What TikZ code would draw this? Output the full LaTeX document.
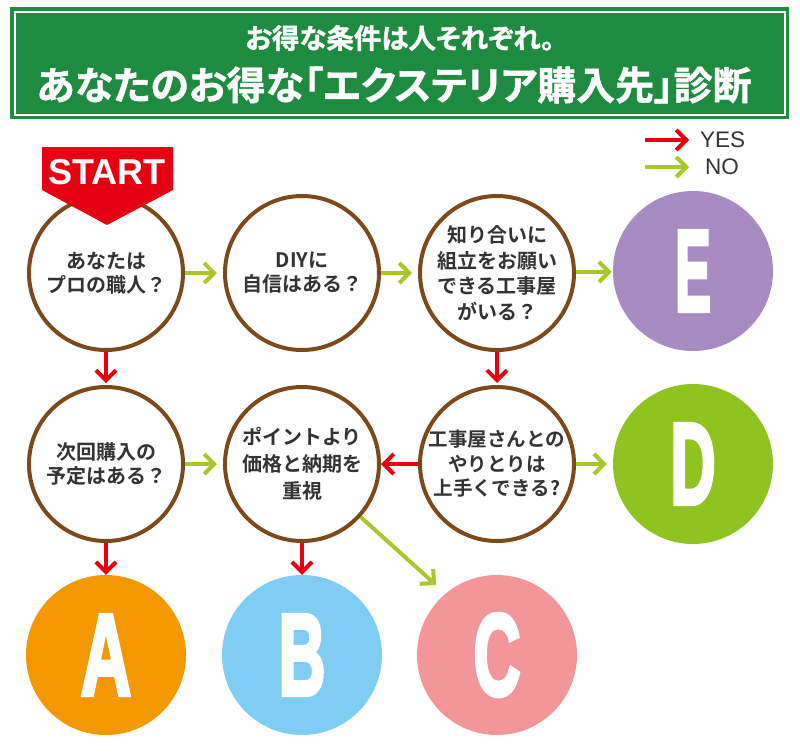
\documentclass[tikz,border=0pt]{standalone}
\usepackage{fontspec}
\usepackage{graphicx}
\setmainfont{Liberation Sans}
\newfontfamily\cjk{Noto Sans CJK JP}[BoldFont={Noto Sans CJK JP Bold}]
\newfontfamily\cjkhead{Noto Sans CJK JP Bold}[RawFeature=+palt, FakeBold=1.2]
\newfontfamily\letterfont{Liberation Sans Bold}[FakeBold=4]
\usetikzlibrary{arrows.meta}
\definecolor{hdrgreen}{HTML}{1F8B41}
\definecolor{brownc}{HTML}{7B4A1A}
\definecolor{yesred}{HTML}{E60012}
\definecolor{nogreen}{HTML}{A9C62C}
\definecolor{txtgray}{HTML}{333333}
\definecolor{cE}{HTML}{A88BC0}
\definecolor{cD}{HTML}{8FC31F}
\definecolor{cA}{HTML}{F39800}
\definecolor{cB}{HTML}{80CDF3}
\definecolor{cC}{HTML}{F29699}
\tikzset{
  qbox/.style={circle, draw=brownc, line width=4pt, fill=white, minimum size=154pt,
    inner sep=0pt, align=center, text=txtgray,
    font=\cjk\bfseries\fontsize{20}{27.5}\selectfont},
  resbox/.style={circle, minimum size=160pt, inner sep=0pt, text=white,
    font=\letterfont\fontsize{116}{116}\selectfont},
  yesarr/.style={draw=yesred, line width=4pt, -{Straight Barb[length=10pt,width=20pt]}},
  noarr/.style={draw=nogreen, line width=4pt, -{Straight Barb[length=10pt,width=20pt]}},
}
\begin{document}
\begin{tikzpicture}[x=1pt, y=-1pt]
\useasboundingbox (0,0) rectangle (800,755);
% header
\fill[hdrgreen] (10,7) rectangle (789,119);
\draw[white, line width=1.2pt] (15,12) rectangle (785,115);
\node[font=\cjkhead\fontsize{27.5}{27.5}\selectfont, text=white] (h1) at (400,38) {お得な条件は人それぞれ。};
\node[font=\cjkhead\fontsize{39}{39}\selectfont, text=white] (h2) at (394,85) {あなたのお得な「エクステリア購入先」診断};
% legend
\coordinate (ly1) at (645,140);
\coordinate (ly2) at (689,140);
\coordinate (ln1) at (645,167);
\coordinate (ln2) at (689,167);
\draw[yesarr] (ly1) -- (ly2);
\draw[noarr] (ln1) -- (ln2);
\node[anchor=west, text=txtgray, font=\fontsize{22.5}{22.5}\selectfont, inner sep=0pt] (lyes) at (700,140) {YES};
\node[anchor=west, text=txtgray, font=\fontsize{22.5}{22.5}\selectfont, inner sep=0pt] (lno) at (705,167) {NO};
% question circles
\node[qbox] (q1) at (106,273) {\raisebox{-3pt}{\shortstack{あなたは\\[3pt]プロの職人？}}};
\node[qbox] (q2) at (302,273) {\raisebox{-3pt}{\shortstack{DIYに\\[3pt]自信はある？}}};
\node[qbox, font=\cjk\bfseries\fontsize{20}{25.5}\selectfont] (q3) at (497,273) {知り合いに\\組立をお願い\\できる工事屋\\がいる？};
\node[qbox] (q4) at (106,464) {\raisebox{-3pt}{\shortstack{次回購入の\\[3pt]予定はある？}}};
\node[qbox, font=\cjk\bfseries\fontsize{20}{27}\selectfont] (q5) at (302,464) {ポイントより\\価格と納期を\\重視};
\node[qbox, font=\cjk\bfseries\fontsize{19.5}{24.5}\selectfont] (q6) at (497,464) {工事屋さんとの\\やりとりは\\上手くできる?};
% result circles
\node[resbox, fill=cE] (rE) at (693,271) {\scalebox{0.46}[1]{E}};
\node[resbox, fill=cD] (rD) at (693,464) {\scalebox{0.54}[1]{D}};
\node[resbox, fill=cA] (rA) at (106,655) {\scalebox{0.6}[1]{A}};
\node[resbox, fill=cB] (rB) at (302,655) {\scalebox{0.56}[1]{B}};
\node[resbox, fill=cC] (rC) at (497,655) {\scalebox{0.56}[1]{C}};
% START banner
\fill[yesred] (42,147) -- (173,147) -- (173,190) -- (107,225) -- (42,190) -- cycle;
\node[font=\bfseries\fontsize{36}{36}\selectfont, text=white] (start) at (107,172) {START};
% connectors
\draw[noarr, shorten >=6pt] (q1) -- (q2);
\draw[noarr, shorten >=6pt] (q2) -- (q3);
\draw[noarr, shorten >=1pt] (q3) -- (rE);
\draw[yesarr, shorten >=2pt] (q1) -- (q4);
\draw[yesarr, shorten >=2pt] (q3) -- (q6);
\draw[noarr, shorten >=6pt] (q4) -- (q5);
\draw[yesarr] (q6) -- (q5);
\draw[noarr, shorten >=6pt] (q6) -- (rD);
\draw[yesarr] (q4) -- (rA);
\draw[yesarr] (q5) -- (rB);
\coordinate (ctip) at (436,585);
\draw[noarr] (q5) -- (ctip);
\end{tikzpicture}
\end{document}
